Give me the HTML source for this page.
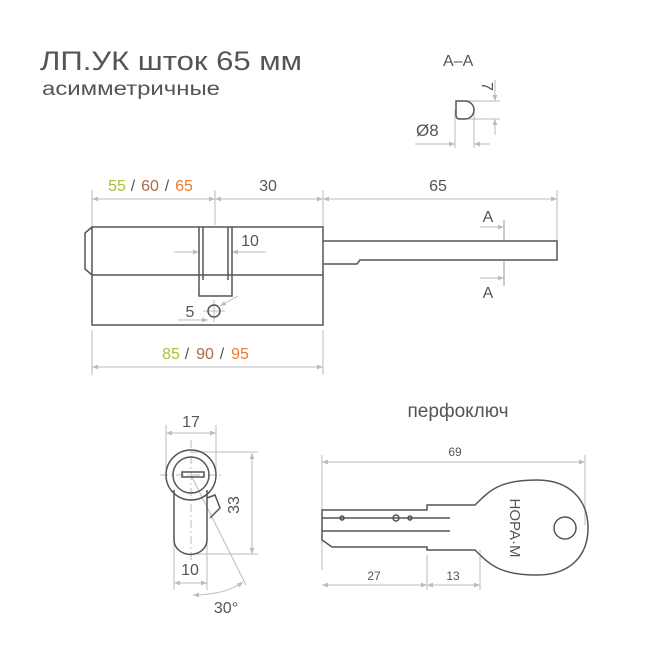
<!DOCTYPE html>
<html><head><meta charset="utf-8"><style>body{margin:0;background:#fff}svg{display:block}text{font-family:"Liberation Sans","DejaVu Sans",sans-serif}</style></head><body>
<svg width="650" height="650" viewBox="0 0 650 650" xmlns="http://www.w3.org/2000/svg">
<defs><marker id="a" viewBox="0 0 10 10" refX="10" refY="5" markerWidth="6" markerHeight="6" orient="auto-start-reverse"><path d="M0,1L10,5L0,9z" fill="#bbb"/></marker></defs>
<g fill="#555">
<text x="40" y="70" font-size="27" textLength="262" lengthAdjust="spacingAndGlyphs">ЛП.УК шток 65 мм</text>
<text x="42" y="95" font-size="19" textLength="178" lengthAdjust="spacingAndGlyphs">асимметричные</text>
<text x="443" y="66" font-size="16">A–A</text>
<text x="416" y="136" font-size="17">Ø8</text>
<text x="482" y="82" font-size="16" transform="rotate(90 482 82)">7</text>
</g>
<g stroke="#bbb" stroke-width="1" fill="none">
<path d="M466 101H500M466 119H500M455 110V148M474 110V148"/>
<path d="M495 80V101" marker-end="url(#a)"/><path d="M495 135V119" marker-end="url(#a)"/>
<path d="M415 144H455" marker-end="url(#a)"/><path d="M490 144H474" marker-end="url(#a)"/>
<path d="M92 190V237M215 190V225M323 190V237M557 190V241"/>
<path d="M92 199H215" marker-start="url(#a)" marker-end="url(#a)"/>
<path d="M215 199H323" marker-start="url(#a)" marker-end="url(#a)"/>
<path d="M323 199H557" marker-start="url(#a)" marker-end="url(#a)"/>
<path d="M174 252H199" marker-end="url(#a)"/><path d="M266 252H232" marker-end="url(#a)"/>
<path d="M480 227H504" marker-end="url(#a)"/><path d="M480 278H504" marker-end="url(#a)"/>
<path d="M504 220V240M504 261V286" stroke="#999"/>
<path d="M178 320H208" marker-end="url(#a)"/><path d="M238 296L220 306" marker-end="url(#a)"/>
<path d="M214 300V322M203 311H225"/>
<path d="M92 330V375M323 330V375"/>
<path d="M92 367H323" marker-start="url(#a)" marker-end="url(#a)"/>
<path d="M166 425V470M216 425V470"/>
<path d="M166 433H216" marker-start="url(#a)" marker-end="url(#a)"/>
<path d="M191 452H258M191 554H258"/>
<path d="M252 453V554" marker-start="url(#a)" marker-end="url(#a)"/>
<path d="M174 540V590M207 540V590"/>
<path d="M174 583H207" marker-start="url(#a)" marker-end="url(#a)"/>
<path d="M191 440V560M160 475H222" stroke-dasharray="8 3 2 3"/>
<path d="M191 475L246 585"/>
<path d="M193 595Q225 595 243 582" marker-start="url(#a)" marker-end="url(#a)"/>
<path d="M322 455V570M585 455V525M427 555V590M480 550V590"/>
<path d="M322 462H585" marker-start="url(#a)" marker-end="url(#a)"/>
<path d="M322 585H427" marker-start="url(#a)" marker-end="url(#a)"/>
<path d="M427 585H480" marker-start="url(#a)" marker-end="url(#a)"/>
</g>
<g stroke="#555" stroke-width="1.5" fill="none">
<path d="M456 101H465A9 9 0 0 1 465 119H460Q456 119 456 115Z"/>
<path d="M92 227H323V325H92V275M92 227L85 233V269L92 275H323M92 227V275"/>
<path d="M199 227V296H232V227M203 227V280M228 227V280"/>
<circle cx="214" cy="311" r="6"/>
<path d="M323 241H557V260H360L357 264H323"/>
<circle cx="191" cy="475" r="25"/><circle cx="191" cy="475" r="18"/>
<path d="M174 490V540A16 14 0 0 0 207 540V490"/>
<path d="M207 498L215 495L220 508L210 518"/>
<rect x="182" y="472" width="22" height="5"/>
<path d="M322 510H427V505H475C490 490 500 480 537 480C570 480 588 500 588 528C588 556 570 575 537 575C500 575 490 565 475 550H427V547H332L322 540Z"/>
<path d="M322 518H450M322 531H450"/>
<circle cx="565" cy="528" r="11"/>
<circle cx="342" cy="518" r="2"/><circle cx="396" cy="518" r="3"/><circle cx="410" cy="518" r="2"/>
</g>
<g font-size="16" fill="#555" text-anchor="middle">
<text x="117" y="191" fill="#a8c23a">55</text><text x="133" y="191">/</text><text x="150" y="191" fill="#a86a4a">60</text><text x="167" y="191">/</text><text x="184" y="191" fill="#f07a2a">65</text>
<text x="268" y="191">30</text><text x="438" y="191">65</text>
<text x="250" y="246">10</text>
<text x="488" y="222">A</text><text x="488" y="298">A</text>
<text x="190" y="317">5</text>
<text x="171" y="359" fill="#a8c23a">85</text><text x="187" y="359">/</text><text x="205" y="359" fill="#a86a4a">90</text><text x="222" y="359">/</text><text x="240" y="359" fill="#f07a2a">95</text>
<text x="191" y="427">17</text>
<text x="234" y="505" transform="rotate(-90 234 505)" dy="5">33</text>
<text x="190" y="575">10</text>
<text x="226" y="613">30°</text>
<text x="458" y="417" font-size="19">перфоключ</text>
<text x="455" y="456" font-size="12">69</text>
<text x="374" y="580" font-size="12">27</text>
<text x="453" y="580" font-size="12">13</text>
<text x="515" y="528" font-size="15" transform="rotate(90 515 528)" dy="5">НОРА·М</text>
</g>
</svg>
</body></html>
